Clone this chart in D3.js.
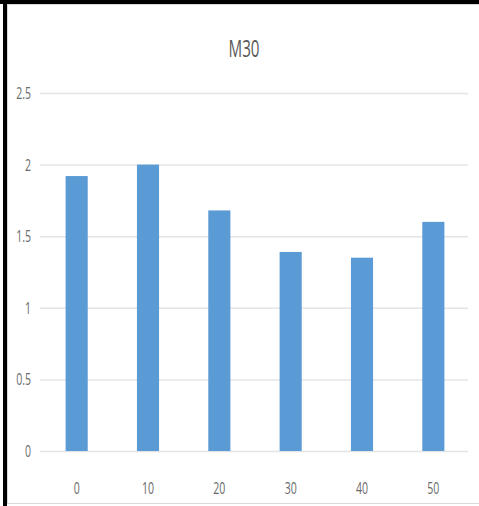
<!DOCTYPE html>
<html>
<head>
<meta charset="utf-8">
<script src="https://cdn.jsdelivr.net/npm/d3@7"></script>
<style>
  html, body { margin: 0; padding: 0; background: #fff; }
  svg { display: block; }
</style>
</head>
<body>
<svg id="chart" width="479" height="506"></svg>
<script>
const title = 'M30';
const categories = ['0', '10', '20', '30', '40', '50'];
const values = [1.92, 2.0, 1.68, 1.39, 1.35, 1.6];
const yTicks = [0, 0.5, 1, 1.5, 2, 2.5];
const yTickLabels = ['0', '0.5', '1', '1.5', '2', '2.5'];

const W = 479, H = 506;
const PLOT = { left: 40, right: 468, top: 93, bottom: 451 };
const BAR_COLOR = '#5b9bd5';
const GRID_COLOR = '#e4e4e4';
const TEXT_COLOR = '#6a6a6a';
const SQUEEZE = 0.66;

const svg = d3.select('#chart');

svg.append('rect').attr('width', W).attr('height', H).attr('fill', '#fff');

// chart area frame (light) and the black edges of the screenshot
svg.append('rect')
    .attr('x', 7.5).attr('y', 4.5).attr('width', W).attr('height', 499)
    .attr('fill', 'none').attr('stroke', '#d9d9d9').attr('stroke-width', 1);
svg.append('rect').attr('x', 0).attr('y', 0).attr('width', W).attr('height', 4).attr('fill', '#000');
svg.append('rect').attr('x', 3).attr('y', 0).attr('width', 4).attr('height', H).attr('fill', '#000');

const x = d3.scaleBand()
    .domain(categories)
    .range([PLOT.left + 1, PLOT.right + 1])
    .paddingInner(0.69)
    .paddingOuter(0.345);

const y = d3.scaleLinear()
    .domain([0, 2.5])
    .range([PLOT.bottom, PLOT.top]);

// gridlines
svg.append('g')
    .attr('transform', `translate(${PLOT.left},0)`)
    .call(d3.axisLeft(y).tickValues(yTicks).tickSize(-(PLOT.right - PLOT.left)).tickFormat(''))
    .call(g => g.select('.domain').remove())
    .call(g => g.selectAll('.tick line').attr('stroke', GRID_COLOR).attr('stroke-width', 1.5));

// bars
svg.append('g')
    .selectAll('rect')
    .data(values)
    .join('rect')
    .attr('x', (d, i) => x(categories[i]))
    .attr('y', d => y(d))
    .attr('width', x.bandwidth())
    .attr('height', d => y(0) - y(d))
    .attr('fill', BAR_COLOR);

// narrow text helper: squeeze horizontally like the reference
function squeezedText(parent, px, py, str, size, anchor, color) {
    parent.append('text')
        .attr('transform', `translate(${px},${py}) scale(${SQUEEZE},1)`)
        .attr('text-anchor', anchor)
        .style('font-family', '"Open Sans", "Liberation Sans", Arial, sans-serif')
        .style('font-size', size + 'px')
        .style('fill', color || TEXT_COLOR)
        .text(str);
}

// y labels
const yLab = svg.append('g');
yTicks.forEach((t, i) => squeezedText(yLab, 31, y(t) + 6, yTickLabels[i], 16, 'end'));

// x labels
const xLab = svg.append('g');
categories.forEach(c => squeezedText(xLab, x(c) + x.bandwidth() / 2, 494, c, 16, 'middle'));

// title
squeezedText(svg, 244, 57, title, 23, 'middle', '#595959');
</script>
</body>
</html>
